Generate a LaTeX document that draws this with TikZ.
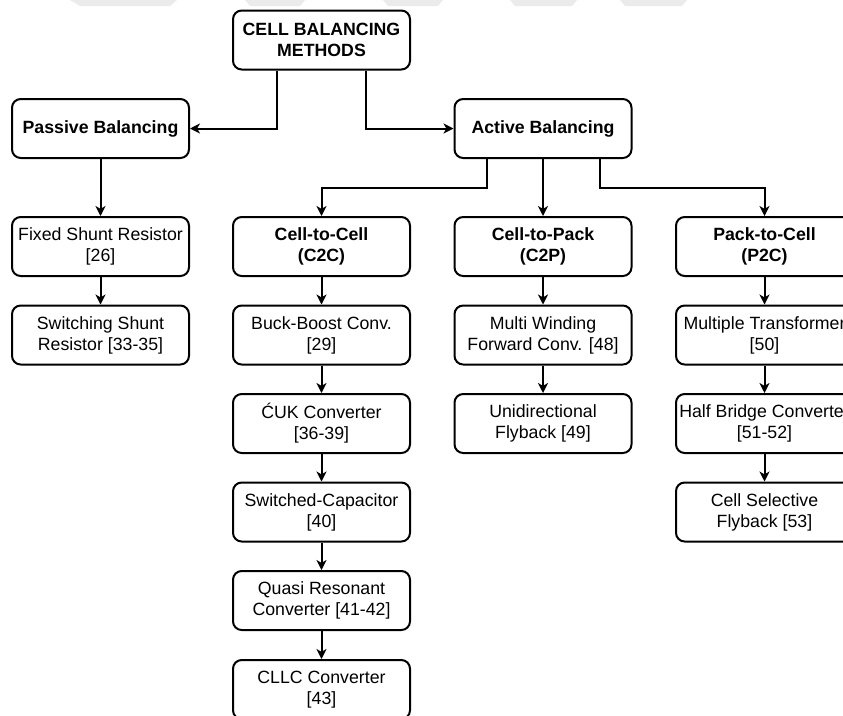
\documentclass[tikz,border=0pt]{standalone}
\usepackage{fontspec}
\setmainfont{Liberation Sans}
\usetikzlibrary{arrows.meta,calc}
\begin{document}
\begin{tikzpicture}[x=0.75pt,y=-0.75pt,
  box/.style={draw=black, line width=1.5pt, rounded corners=6.5pt, fill=white,
    minimum width=132.75pt, minimum height=44.25pt, align=center, inner sep=0pt,
    font=\fontsize{13.3}{15.75}\selectfont},
  head/.style={box, font=\fontsize{13.3}{15.75}\selectfont\bfseries},
  link/.style={line width=1.5pt, -{Stealth[length=7.5pt,width=7.5pt,inset=2.2pt]}},
  wmshape/.style={fill=black!8, draw=none}
]
\useasboundingbox (0,0) rectangle (843,715);

% faint band along the top edge
\fill[wmshape] (70,0) -- (177,0) -- (170,6) -- (80,6) -- cycle;
\fill[wmshape] (245,0) -- (305,0) -- (300,6) -- (250,6) -- cycle;
\fill[wmshape] (383,0) -- (443,0) -- (438,6) -- (388,6) -- cycle;
\fill[wmshape] (510,0) -- (577,0) -- (572,6) -- (515,6) -- cycle;
\fill[wmshape] (620,0) -- (687,0) -- (682,6) -- (625,6) -- cycle;

% top level
\node[head] (root) at (321.5,40) {CELL BALANCING\\METHODS};
\node[head] (passive) at (100.5,128.5) {Passive Balancing};
\node[head] (active) at (543,128.5) {Active Balancing};

% passive branch
\node[box] (fixed) at (100.5,246.5) {Fixed Shunt Resistor\\{}[26]};
\node[box] (switching) at (100.5,335) {Switching Shunt\\Resistor [33-35]};

% active sub-groups
\node[head] (c2c) at (321.5,246.5) {Cell-to-Cell\\(C2C)};
\node[head] (c2p) at (543,246.5) {Cell-to-Pack\\(C2P)};
\node[head] (p2c) at (764.5,246.5) {Pack-to-Cell\\(P2C)};

% cell-to-cell column
\node[box] (buck) at (321.5,335) {Buck-Boost Conv.\\{}[29]};
\node[box] (cuk) at (321.5,423.5) {ĆUK Converter\\{}[36-39]};
\node[box] (swcap) at (321.5,512) {Switched-Capacitor\\{}[40]};
\node[box] (quasi) at (321.5,600.5) {Quasi Resonant\\Converter [41-42]};
\node[box] (cllc) at (321.5,689.5) {CLLC Converter\\{}[43]};

% cell-to-pack column
\node[box] (multiw) at (543,335) {Multi Winding\\Forward Conv. [48]};
\node[box] (unidir) at (543,423.5) {Unidirectional\\Flyback [49]};

% pack-to-cell column
\node[box] (multit) at (764.5,335) {Multiple Transformer\\{}[50]};
\node[box] (halfb) at (764.5,423.5) {Half Bridge Converter\\{}[51-52]};
\node[box] (selective) at (764.5,512) {Cell Selective\\Flyback [53]};

% connectors
\draw[link] ($(root.south)+(-44.5,0)$) |- (passive.east);
\draw[link] ($(root.south)+(44.5,0)$) |- (active.west);
\draw[link] (passive.south) -- (fixed.north);
\draw[link] (fixed.south) -- (switching.north);
\draw[link] ($(active.south)+(-56,0)$) -- ++(0,28.5) -| (c2c.north);
\draw[link] (active.south) -- (c2p.north);
\draw[link] ($(active.south)+(57,0)$) -- ++(0,28.5) -| (p2c.north);
\draw[link] (c2c.south) -- (buck.north);
\draw[link] (buck.south) -- (cuk.north);
\draw[link] (cuk.south) -- (swcap.north);
\draw[link] (swcap.south) -- (quasi.north);
\draw[link] (quasi.south) -- (cllc.north);
\draw[link] (c2p.south) -- (multiw.north);
\draw[link] (multiw.south) -- (unidir.north);
\draw[link] (p2c.south) -- (multit.north);
\draw[link] (multit.south) -- (halfb.north);
\draw[link] (halfb.south) -- (selective.north);
\end{tikzpicture}
\end{document}
